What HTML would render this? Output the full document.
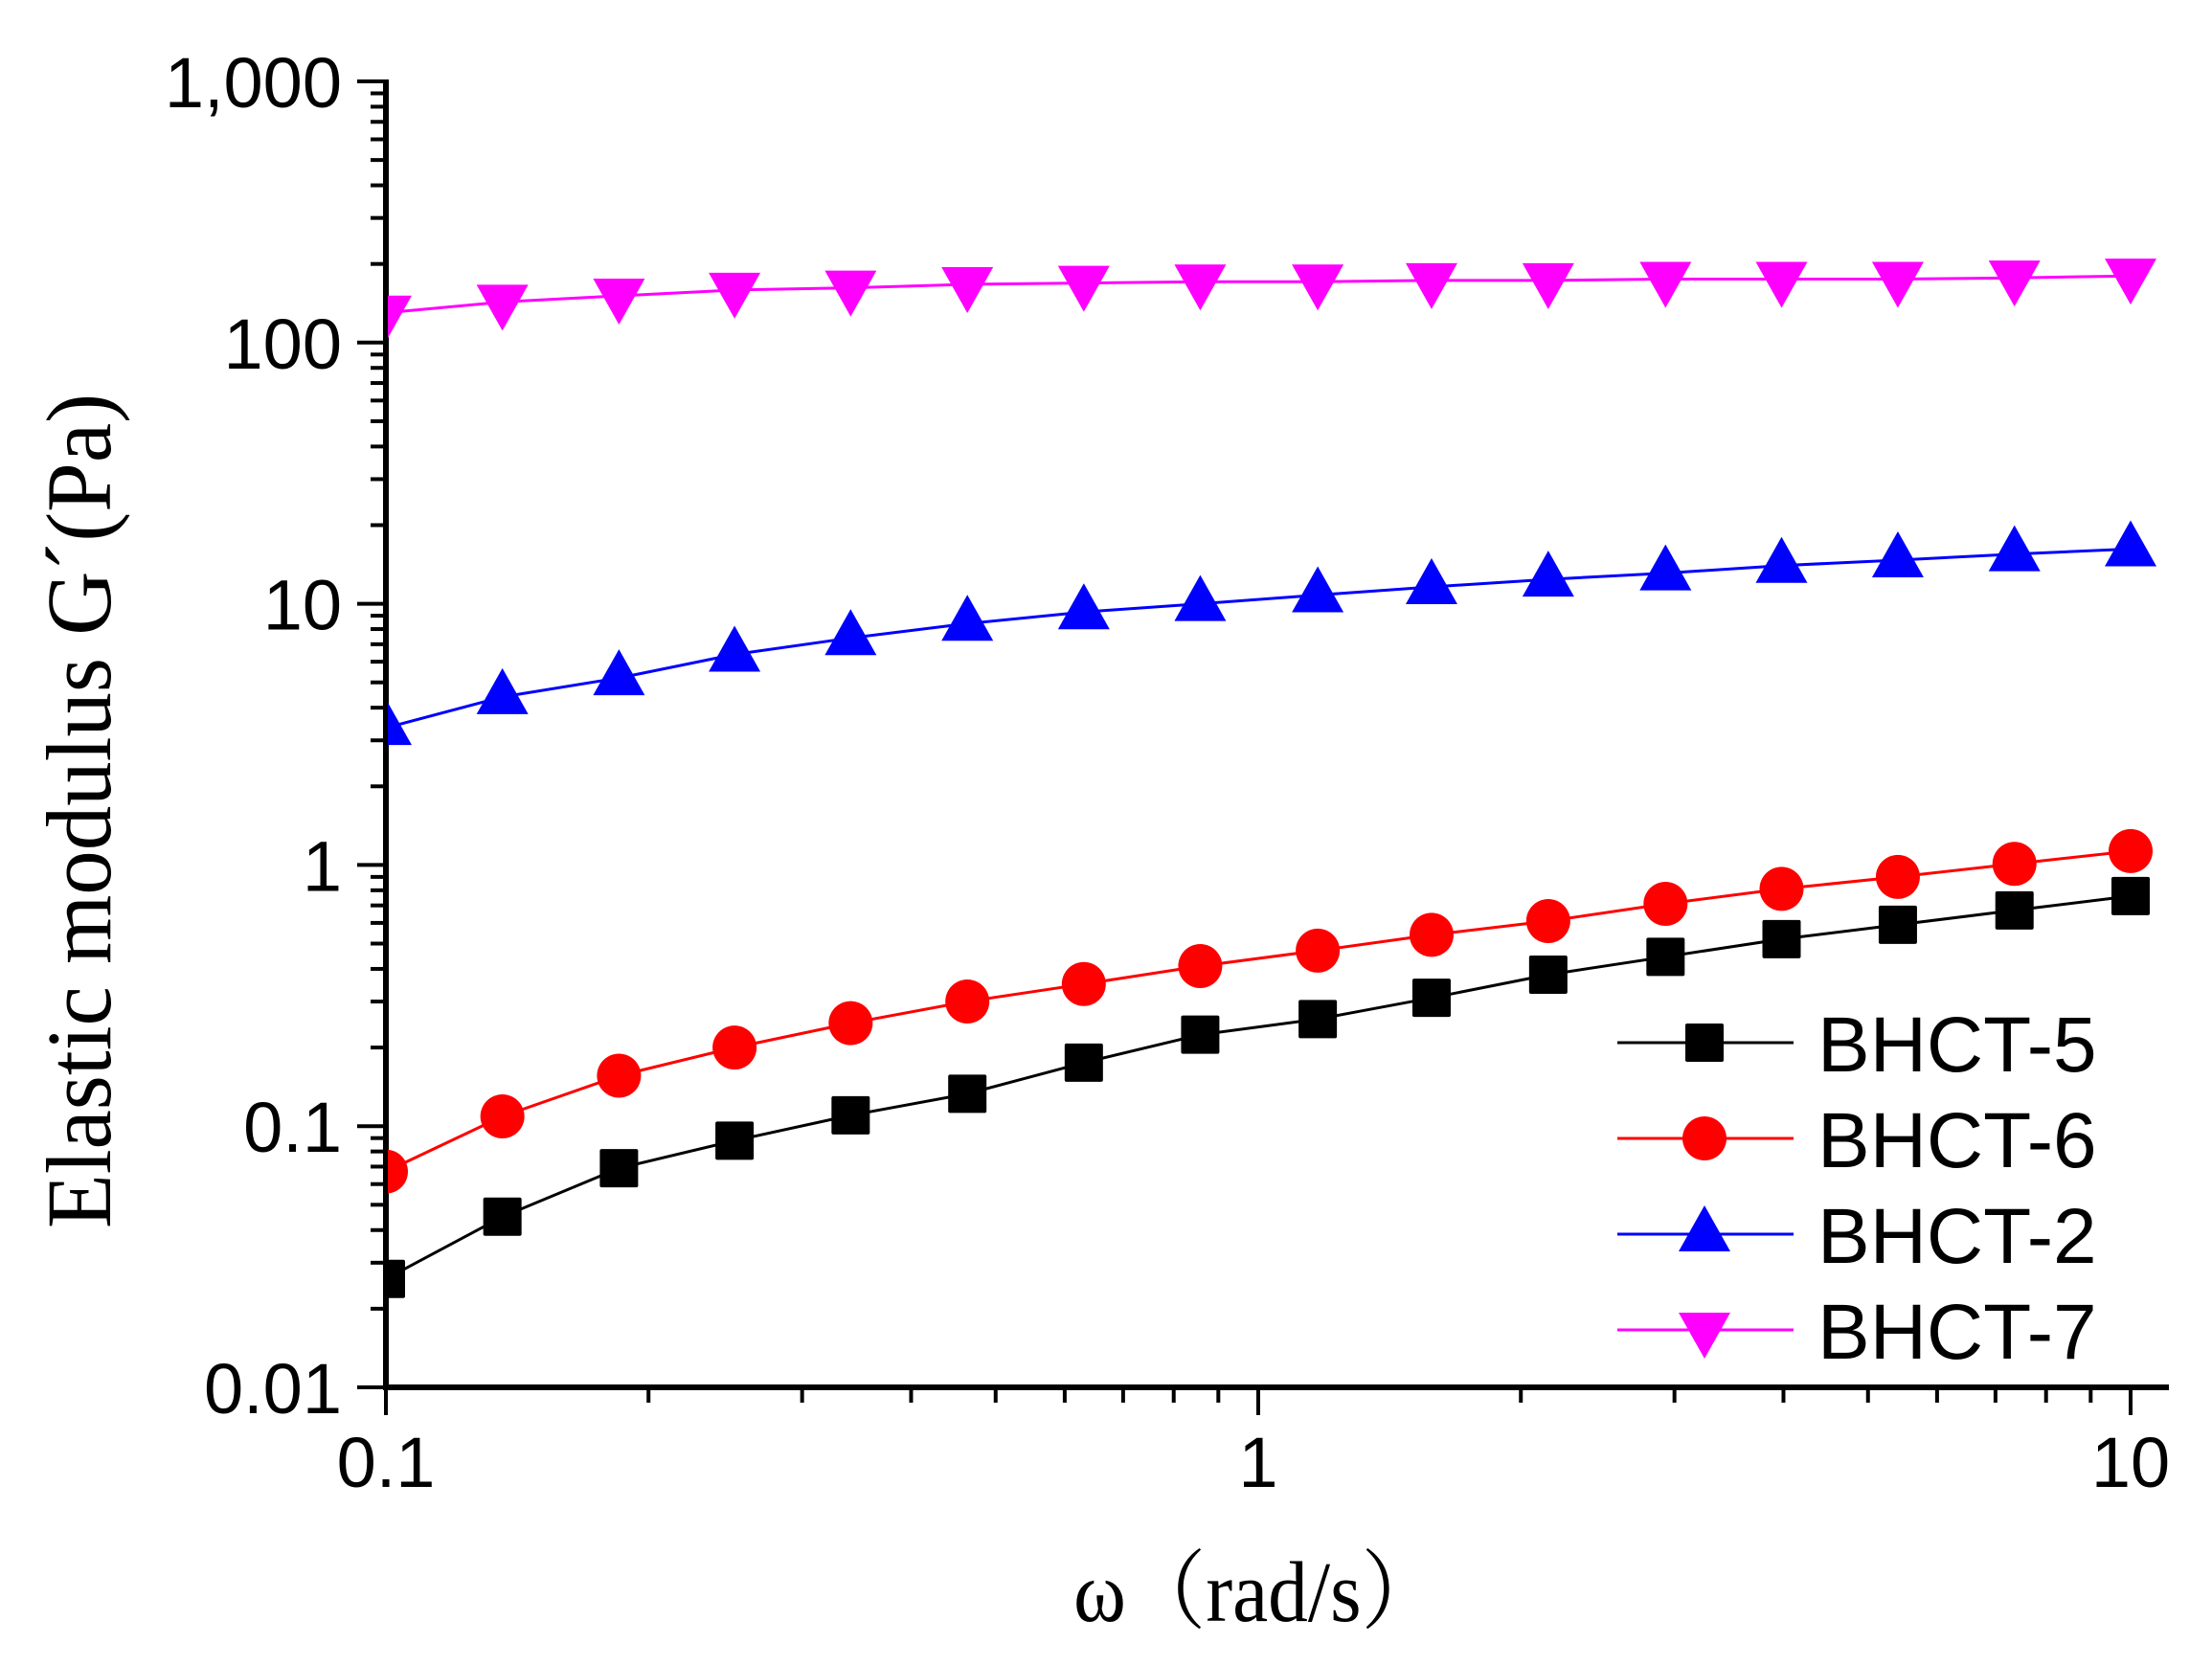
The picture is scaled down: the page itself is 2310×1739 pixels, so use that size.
<!DOCTYPE html>
<html><head><meta charset="utf-8"><style>html,body{margin:0;padding:0;background:#fff}svg{display:block}</style></head>
<body>
<svg id="chart" width="2310" height="1739" viewBox="0 0 2310 1739" xmlns="http://www.w3.org/2000/svg">
<defs><clipPath id="plotclip"><rect x="405" y="40" width="1900" height="1406"/></clipPath></defs>
<g id="axes"></g>
<g id="series" clip-path="url(#plotclip)"></g>
<g id="legend"></g>
<text transform="translate(115,847) rotate(-90)" text-anchor="middle" font-family="Liberation Serif, serif" font-size="96" textLength="872" lengthAdjust="spacingAndGlyphs">Elastic modulus G´(Pa)</text>
<text x="1313" y="1693" text-anchor="middle" font-family="Liberation Serif, 'Noto Serif CJK SC', serif" font-size="90" textLength="384" lengthAdjust="spacingAndGlyphs">ω（rad/s）</text>
</svg>
<script>
const xTickValues = [0.1, 1, 10];
const xTickLabels = ["0.1", "1", "10"];
const yTickValues = [0.01, 0.1, 1, 10, 100, 1000];
const yTickLabels = ["0.01", "0.1", "1", "10", "100", "1,000"];
const omega = [0.1, 0.136, 0.185, 0.251, 0.341, 0.464, 0.631, 0.858, 1.17, 1.58, 2.15, 2.93, 3.98, 5.41, 7.36, 10];
const bhct5 = [0.026, 0.045, 0.069, 0.088, 0.11, 0.133, 0.175, 0.224, 0.257, 0.31, 0.38, 0.445, 0.52, 0.59, 0.67, 0.76];
const bhct6 = [0.067, 0.109, 0.156, 0.20, 0.248, 0.30, 0.35, 0.41, 0.47, 0.54, 0.61, 0.71, 0.81, 0.90, 1.01, 1.13];
const bhct2 = [3.35, 4.4, 5.2, 6.4, 7.4, 8.4, 9.3, 10.0, 10.8, 11.6, 12.4, 13.1, 14.0, 14.7, 15.5, 16.2];
const bhct7 = [130, 143, 151, 159, 162, 167, 169, 171, 171, 173, 173, 175, 175, 175, 177, 180];
const seriesNames = ["BHCT-5", "BHCT-6", "BHCT-2", "BHCT-7"];

const NS = "http://www.w3.org/2000/svg";
const X0 = 403, XD = 911, Y0 = 1449, YD = 272.8;
function xs(v){ return X0 + (Math.log10(v) + 1) * XD; }
function ys(v){ return Y0 - (Math.log10(v) + 2) * YD; }
function mk(tag, attrs, parent){ const e = document.createElementNS(NS, tag); for (const k in attrs) e.setAttribute(k, attrs[k]); parent.appendChild(e); return e; }

const axes = document.getElementById('axes');
let l = mk('line', {x1: X0, y1: 83, x2: X0, y2: Y0 + 3, stroke: '#000', 'stroke-width': 6}, axes);


l = mk('line', {x1: X0 - 3, y1: Y0, x2: 2265, y2: Y0, stroke: '#000', 'stroke-width': 6}, axes);



for (let d = -2; d <= 3; d++) {
  const v = Math.pow(10, d);
  l = mk('line', {x1: X0 - 30, y1: ys(v), x2: X0, y2: ys(v), stroke: '#000', 'stroke-width': 4}, axes);
  
  
  if (d < 3) for (let m = 2; m <= 9; m++) {
    const mv = v * m;
    l = mk('line', {x1: X0 - 16, y1: ys(mv), x2: X0, y2: ys(mv), stroke: '#000', 'stroke-width': 4}, axes);
    
    
  }
}
yTickValues.forEach((v, i) => {
  const t = mk('text', {x: 357, y: ys(v) + 27, 'text-anchor': 'end', 'font-family': 'Liberation Sans, sans-serif', 'font-size': 74}, axes);
  t.textContent = yTickLabels[i];
  
  
});
for (let d = -1; d <= 1; d++) {
  const v = Math.pow(10, d);
  l = mk('line', {x1: xs(v), y1: Y0, x2: xs(v), y2: Y0 + 29, stroke: '#000', 'stroke-width': 4}, axes);
  
  
  if (d < 1) for (let m = 2; m <= 9; m++) {
    const mv = v * m;
    l = mk('line', {x1: xs(mv), y1: Y0, x2: xs(mv), y2: Y0 + 16, stroke: '#000', 'stroke-width': 4}, axes);
    
    
  }
}
xTickValues.forEach((v, i) => {
  const t = mk('text', {x: xs(v), y: 1553, 'text-anchor': 'middle', 'font-family': 'Liberation Sans, sans-serif', 'font-size': 74}, axes);
  t.textContent = xTickLabels[i];
  
  
});

function marker(type, cx, cy, color, parent){
  let e;
  if (type === 'square') e = mk('rect', {x: cx - 20, y: cy - 20, width: 40, height: 40, rx: 2, fill: color}, parent);
  else if (type === 'circle') e = mk('circle', {cx: cx, cy: cy, r: 23, fill: color}, parent);
  else if (type === 'up') e = mk('polygon', {points: `${cx},${cy-30} ${cx+27},${cy+18} ${cx-27},${cy+18}`, fill: color}, parent);
  else e = mk('polygon', {points: `${cx},${cy+30} ${cx+27},${cy-18} ${cx-27},${cy-18}`, fill: color}, parent);
  return e;
}

const seriesData = [bhct5, bhct6, bhct2, bhct7];
const colors = ['#000000', '#ff0000', '#0000ff', '#ff00ff'];
const shapes = ['square', 'circle', 'up', 'down'];
const sg = document.getElementById('series');
seriesData.forEach((vals, s) => {
  const g = mk('g', {}, sg);
  
  
  const pts = vals.map((v, i) => xs(omega[i]).toFixed(1) + ',' + ys(v).toFixed(1)).join(' ');
  const pl = mk('polyline', {points: pts, fill: 'none', stroke: colors[s], 'stroke-width': 3}, g);
  
  
  vals.forEach((v, i) => {
    const m = marker(shapes[s], xs(omega[i]), ys(v), colors[s], g);
    
    
  });
});

const lg = document.getElementById('legend');
seriesNames.forEach((name, s) => {
  const y = 1089 + 100 * s;
  const g = mk('g', {}, lg);
  
  
  mk('line', {x1: 1689, y1: y, x2: 1873, y2: y, stroke: colors[s], 'stroke-width': 3}, g);
  marker(shapes[s], 1780, y, colors[s], g);
  const t = mk('text', {x: 1898, y: y + 30, 'font-family': 'Liberation Sans, sans-serif', 'font-size': 82}, g);
  t.textContent = name;
  
  
});
</script>
</body></html>
